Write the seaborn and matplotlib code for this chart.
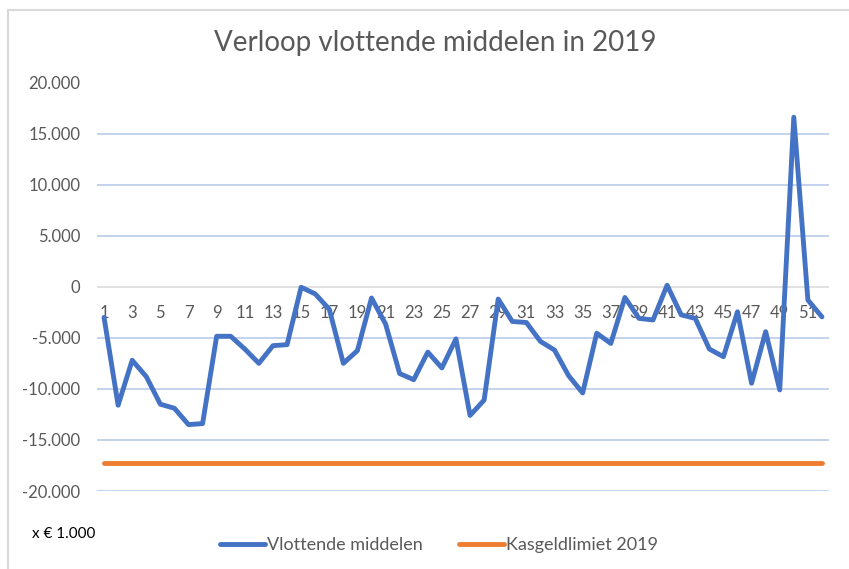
import matplotlib
matplotlib.use("Agg")
import matplotlib.pyplot as plt
import seaborn as sns
import pandas as pd
from matplotlib.lines import Line2D
from matplotlib.ticker import FuncFormatter, FixedLocator

weeks = list(range(1, 53))
vlottende = [-3000, -11600, -7200, -8800, -11500, -11900, -13500, -13400, -4850, -4850,
             -6100, -7500, -5770, -5670, -50, -700, -2200, -7500, -6250, -1100,
             -3650, -8500, -9100, -6400, -7950, -5100, -12600, -11100, -1200, -3400,
             -3500, -5350, -6200, -8700, -10400, -4550, -5550, -1050, -3100, -3250,
             150, -2750, -3100, -6100, -6850, -2450, -9450, -4400, -10100, 16600,
             -1300, -2950]
kasgeld = [-17300] * 52
series_names = ["Vlottende middelen", "Kasgeldlimiet 2019"]
tick_labels = [str(w) for w in weeks if w % 2 == 1]
y_ticks = [-20000, -15000, -10000, -5000, 0, 5000, 10000, 15000, 20000]

df = pd.DataFrame({
    "week": weeks * 2,
    "waarde": vlottende + kasgeld,
    "reeks": [series_names[0]] * 52 + [series_names[1]] * 52,
})

sns.set_theme(style="white")
plt.rcParams["font.family"] = ["Lato", "DejaVu Sans"]

fig = plt.figure(figsize=(8.49, 5.69), dpi=100)
ax = fig.add_axes([97 / 849, 1 - 491 / 569, (829 - 97) / 849, (491 - 82.5) / 569])

palette = {series_names[0]: "#4472C4", series_names[1]: "#ED7D31"}
sns.lineplot(data=df, x="week", y="waarde", hue="reeks", palette=palette,
             linewidth=3.5, ax=ax, legend=False, zorder=3)

ax.set_xlim(0.5, 52.5)
ax.set_ylim(-20000, 20000)
ax.yaxis.set_major_locator(FixedLocator(y_ticks))
ax.yaxis.set_major_formatter(FuncFormatter(lambda v, p: f"{int(v):,}".replace(",", ".")))
ax.set_xticks([w for w in weeks if w % 2 == 1])
ax.set_xticklabels(tick_labels)

for v in y_ticks:
    if v != 0:
        ax.axhline(v, color="#B4C7E7", linewidth=1.1, zorder=1)
ax.axhline(0, color="#D9D9D9", linewidth=1.1, zorder=1)

for s in ["top", "right", "left"]:
    ax.spines[s].set_visible(False)
ax.spines["bottom"].set_position(("data", 0))
ax.spines["bottom"].set_visible(False)

ax.tick_params(axis="x", length=0, pad=13, labelsize=12, labelcolor="#595959")
ax.tick_params(axis="y", length=0, pad=12, labelsize=12, labelcolor="#595959")
ax.set_xlabel("")
ax.set_ylabel("")

fig.text(435 / 849, 1 - 43 / 569, "Verloop vlottende middelen in 2019", ha="center", va="center",
         fontsize=20, color="#595959")

fig.text(32 / 849, 1 - 534 / 569, "x € 1.000", ha="left", va="center", fontsize=11, color="#000000")

handles = [Line2D([0], [0], color=palette[n], linewidth=3.5) for n in series_names]
fig.legend(handles, series_names, loc="center", bbox_to_anchor=(439 / 849, 1 - 545 / 569),
           ncol=2, frameon=False, fontsize=13, labelcolor="#595959", handlelength=2.5,
           handletextpad=0.1, columnspacing=2.0)

fig.add_artist(Line2D([8 / 849, 8 / 849], [0, 1 - 10 / 569], transform=fig.transFigure,
                      color="#D9D9D9", linewidth=1.5))
fig.add_artist(Line2D([8 / 849, 1], [1 - 10 / 569, 1 - 10 / 569], transform=fig.transFigure,
                      color="#D9D9D9", linewidth=1.5))

fig.savefig("out.png", dpi=100)
